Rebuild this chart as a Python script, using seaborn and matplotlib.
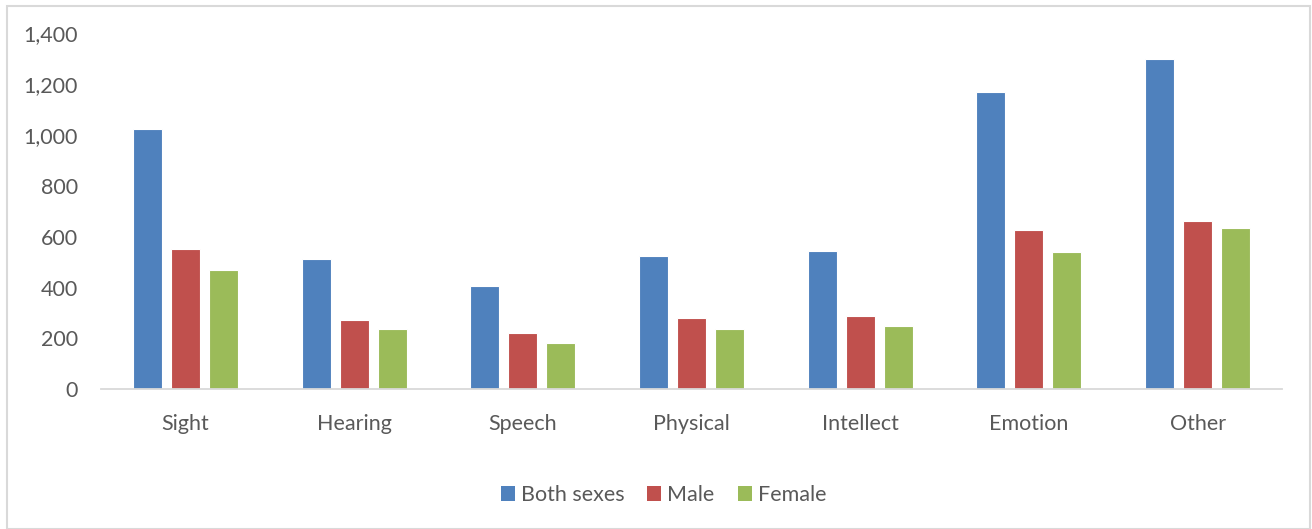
import matplotlib
matplotlib.use("Agg")
import matplotlib.pyplot as plt
import seaborn as sns
import pandas as pd
from matplotlib.patches import Patch, Rectangle
from matplotlib.ticker import FuncFormatter

categories = ["Sight", "Hearing", "Speech", "Physical", "Intellect", "Emotion", "Other"]
series_names = ["Both sexes", "Male", "Female"]
both_sexes = [1025, 514, 405, 523, 543, 1171, 1299]
male = [552, 273, 220, 281, 289, 628, 660]
female = [469, 237, 183, 239, 248, 538, 634]
y_ticks = [0, 200, 400, 600, 800, 1000, 1200, 1400]
colors = ["#4F81BD", "#C0504D", "#9BBB59"]

rows = []
for name, vals in zip(series_names, [both_sexes, male, female]):
    for c, v in zip(categories, vals):
        rows.append({"category": c, "series": name, "value": v})
df = pd.DataFrame(rows)

sns.set_theme(style="white")
plt.rcParams['font.family'] = ['Lato', 'DejaVu Sans']
text_color = "#595959"
fs = 15.5

W, H = 1312, 529
fig = plt.figure(figsize=(W / 100, H / 100), dpi=100)
ax = fig.add_axes([101 / W, 1 - 389.3 / H, (1282 - 101) / W, (389.3 - 33.3) / H])

sns.barplot(data=df, x="category", y="value", hue="series", order=categories,
            hue_order=series_names, palette=colors, width=0.675, gap=0.236,
            edgecolor="white", linewidth=0.8, saturation=1, ax=ax, legend=False)

ax.set_ylim(0, 1400)
ax.set_xlim(-0.5, len(categories) - 0.5)
ax.set_yticks(y_ticks)
ax.yaxis.set_major_formatter(FuncFormatter(lambda v, p: f"{int(v):,}"))
ax.set_xlabel("")
ax.set_ylabel("")
for s in ["top", "right", "left"]:
    ax.spines[s].set_visible(False)
ax.spines["bottom"].set_color("#D9D9D9")
ax.spines["bottom"].set_linewidth(1.3)
ax.tick_params(axis="y", length=0, pad=16.5, labelsize=fs, labelcolor=text_color)
ax.tick_params(axis="x", length=0, pad=17.5, labelsize=fs, labelcolor=text_color)
ax.grid(False)

handles = [Patch(facecolor=c, edgecolor="none") for c in colors]
fig.legend(handles, series_names, loc="center", bbox_to_anchor=(663.5 / W, 1 - 495 / H),
           ncol=3, frameon=False, fontsize=fs, labelcolor=text_color,
           handlelength=0.65, handleheight=0.65, handletextpad=0.28, columnspacing=1.07)

fig.patches.append(Rectangle((7 / W, 0), (1310 - 7) / W, 1 - 6 / H, transform=fig.transFigure,
                             fill=False, edgecolor="#D9D9D9", linewidth=1.5))

fig.savefig("out.png", dpi=100, facecolor="white")
